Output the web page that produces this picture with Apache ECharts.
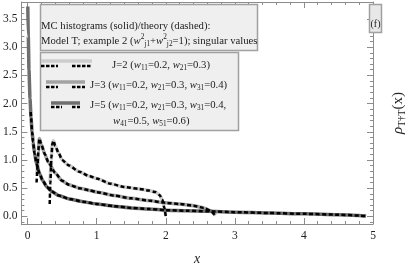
<!DOCTYPE html>
<html><head><meta charset="utf-8">
<script src="https://cdn.jsdelivr.net/npm/echarts@6/dist/echarts.min.js"></script>
<style>html,body{margin:0;padding:0;background:#fff}#c{width:415px;height:271px}</style>
</head><body><div id="c"></div>
<script>
// ---- data ----
const xTickLabels = [0, 1, 2, 3, 4, 5];
const yTickLabels = [0, 0.5, 1.0, 1.5, 2.0, 2.5, 3.0, 3.5];

const j2X  = [0.325, 0.34, 0.36, 0.375, 0.4, 0.45, 0.5, 0.6, 0.75, 0.9, 1.0, 1.2, 1.4, 1.6, 1.75, 1.85, 1.91, 1.95, 1.98, 2.0];
const j2Y  = [0.6, 1.0, 1.3, 1.34, 1.25, 1.12, 1.0, 0.9, 0.79, 0.71, 0.67, 0.58, 0.52, 0.49, 0.46, 0.43, 0.38, 0.3, 0.15, 0.02];
const j2TX = [0.32, 0.33, 0.345, 0.36, 0.375, 0.4, 0.45, 0.5, 0.6, 0.75, 0.9, 1.0, 1.2, 1.4, 1.6, 1.75, 1.85, 1.91, 1.95, 1.98, 2.0];
const j2TY = [0.22, 0.6, 1.05, 1.3, 1.34, 1.25, 1.12, 1.0, 0.9, 0.79, 0.71, 0.67, 0.58, 0.52, 0.49, 0.46, 0.43, 0.38, 0.3, 0.15, 0.0];

const j3X  = [0.14, 0.155, 0.17, 0.2, 0.25, 0.3, 0.4, 0.5, 0.6, 0.75, 0.9, 1.0, 1.25, 1.5, 1.75, 2.0, 2.2, 2.4, 2.55, 2.65, 2.72];
const j3Y  = [0.75, 1.15, 1.38, 1.27, 1.1, 0.96, 0.77, 0.63, 0.56, 0.5, 0.46, 0.43, 0.37, 0.32, 0.28, 0.24, 0.22, 0.19, 0.15, 0.1, 0.02];
const j3TX = [0.13, 0.14, 0.155, 0.17, 0.2, 0.25, 0.3, 0.4, 0.5, 0.6, 0.75, 0.9, 1.0, 1.25, 1.5, 1.75, 2.0, 2.2, 2.4, 2.55, 2.65, 2.72];
const j3TY = [0.6, 0.8, 1.15, 1.38, 1.27, 1.1, 0.96, 0.77, 0.63, 0.56, 0.5, 0.46, 0.43, 0.37, 0.32, 0.28, 0.24, 0.22, 0.19, 0.15, 0.1, 0.0];

const j5X  = [0.003, 0.01, 0.02, 0.035, 0.05, 0.065, 0.08, 0.1, 0.13, 0.17, 0.22, 0.28, 0.35, 0.45, 0.6, 0.8, 1.0, 1.25, 1.5, 1.75, 2.0, 2.3, 2.6, 3.0, 3.5, 4.0, 4.5, 4.8, 4.9];
const j5Y  = [3.72, 3.2, 2.6, 2.09, 1.75, 1.5, 1.32, 1.12, 0.93, 0.77, 0.63, 0.52, 0.44, 0.37, 0.31, 0.26, 0.22, 0.18, 0.15, 0.13, 0.11, 0.1, 0.09, 0.075, 0.06, 0.045, 0.03, 0.015, 0.005];
const j5TX = [0.045, 0.05, 0.065, 0.08, 0.1, 0.13, 0.17, 0.22, 0.28, 0.35, 0.45, 0.6, 0.8, 1.0, 1.25, 1.5, 1.75, 2.0, 2.3, 2.6, 3.0, 3.5, 4.0, 4.5, 4.8, 4.9];
const j5TY = [1.85, 1.75, 1.5, 1.32, 1.12, 0.93, 0.77, 0.63, 0.52, 0.44, 0.37, 0.31, 0.26, 0.22, 0.18, 0.15, 0.13, 0.11, 0.1, 0.09, 0.075, 0.06, 0.045, 0.03, 0.015, 0.005];

const xMinor = [];
for (let v = 0.2; v < 5; v += 0.2) { const r = Math.round(v * 10) / 10; if (Math.abs(r - Math.round(r)) > 1e-6) xMinor.push(r); }
const yMinor = [];
for (let v = -0.1; v <= 3.75; v += 0.1) { const r = Math.round(v * 10) / 10; if (Math.abs(r * 2 - Math.round(r * 2)) > 1e-6) yMinor.push(r); }

const zip = (a, b) => a.map((v, i) => [v, b[i]]);
const SERIF = 'Liberation Serif';
const AX = '#8c8c8c';

const X_MIN = -0.09, X_MAX = 5, Y_MIN = -0.135, Y_MAX = 3.8;

function xAx(pos, ticks, len, labels, line) {
  return {
    type: 'value', position: pos, min: X_MIN, max: X_MAX,
    axisLine: { show: line, onZero: false, lineStyle: { color: AX, width: 1 } },
    axisTick: { show: true, inside: true, length: len, customValues: ticks, lineStyle: { color: AX, width: 1 } },
    axisLabel: labels ? { show: true, customValues: xTickLabels, margin: 6, color: '#222', fontFamily: SERIF, fontSize: 11.5, formatter: v => String(Math.round(v)) } : { show: false },
    splitLine: { show: false }
  };
}
function yAx(pos, ticks, len, labels, line, name) {
  const o = {
    type: 'value', position: pos, min: Y_MIN, max: Y_MAX,
    axisLine: { show: line, onZero: false, lineStyle: { color: AX, width: 1 } },
    axisTick: { show: true, inside: true, length: len, customValues: ticks, lineStyle: { color: AX, width: 1 } },
    axisLabel: labels ? { show: true, customValues: yTickLabels, margin: 4, color: '#222', fontFamily: SERIF, fontSize: 11.5, formatter: v => v.toFixed(1) } : { show: false },
    splitLine: { show: false }
  };
  if (name) {
    o.name = '{r|ρ}{s|T†T}{n|(x)}';
    o.nameLocation = 'middle';
    o.nameRotate = 90;
    o.nameGap = 17;
    o.nameTextStyle = {
      color: '#222',
      rich: {
        r: { fontFamily: SERIF, fontSize: 15, fontStyle: 'italic', lineHeight: 17 },
        s: { fontFamily: SERIF, fontSize: 10, lineHeight: 11, verticalAlign: 'bottom' },
        n: { fontFamily: SERIF, fontSize: 15, lineHeight: 17 }
      }
    };
  }
  return o;
}

const FS = 10.7, FSS = 7.3;
const richBase = {
  n: { fontFamily: SERIF, fontSize: FS, lineHeight: 14, fill: '#222', color: '#222' },
  i: { fontFamily: SERIF, fontSize: FS, fontStyle: 'italic', lineHeight: 14, fill: '#222', color: '#222' },
  s: { fontFamily: SERIF, fontSize: FSS, lineHeight: 8.5, verticalAlign: 'bottom', fill: '#222', color: '#222' },
  p: { fontFamily: SERIF, fontSize: FSS, lineHeight: 8.5, verticalAlign: 'top', fill: '#222', color: '#222' }
};
function txt(x, y, t) {
  return { type: 'text', x: x, y: y, z: 20, style: { text: t, rich: richBase, verticalAlign: 'middle', align: 'left', fontFamily: SERIF, fontSize: FS, fill: '#222' } };
}
function seg(x1, y1, x2, y2, color, w, dash) {
  return { type: 'line', z: 20, shape: { x1: x1, y1: y1, x2: x2, y2: y2 }, style: { stroke: color, lineWidth: w, lineDash: dash || null } };
}

const C2 = '#cdcdcd', C3 = '#a3a3a3', C5 = '#6e6e6e';
const DASH = [4, 2.5];

function solid(name, x, y, c) {
  return { name: name, type: 'line', data: zip(x, y), showSymbol: false, smooth: 0.2, smoothMonotone: 'x', lineStyle: { color: c, width: 3.5 }, itemStyle: { color: c }, z: 2 };
}
function theory(name, x, y) {
  return { name: name, type: 'line', data: zip(x, y), showSymbol: false, smooth: 0.2, smoothMonotone: 'x', lineStyle: { color: '#000', width: 2.5, type: DASH }, itemStyle: { color: '#000' }, z: 3 };
}

const chart = echarts.init(document.getElementById('c'), null, { renderer: 'canvas' });
chart.setOption({
  animation: false,
  backgroundColor: '#fff',
  grid: { left: 19, right: 31, top: 2, bottom: 44, containLabel: false },
  xAxis: [
    Object.assign(xAx('bottom', xTickLabels, 6, true, true), {
      name: 'x', nameLocation: 'middle', nameGap: 28,
      nameTextStyle: { fontFamily: SERIF, fontStyle: 'italic', fontSize: 14, color: '#222' }
    }),
    xAx('bottom', xMinor, 3, false, false),
    xAx('top', xTickLabels, 6, false, true),
    xAx('top', xMinor, 3, false, false)
  ],
  yAxis: [
    yAx('left', yTickLabels, 6, true, true),
    yAx('left', yMinor, 3, false, false),
    yAx('right', yTickLabels, 6, false, true, true),
    yAx('right', yMinor, 3, false, false)
  ],
  series: [
    solid('J=2 MC', j2X, j2Y, C2),
    solid('J=3 MC', j3X, j3Y, C3),
    solid('J=5 MC', j5X, j5Y, C5),
    theory('J=2 theory', j2TX, j2TY),
    theory('J=3 theory', j3TX, j3TY),
    theory('J=5 theory', j5TX, j5TY)
  ],
  graphic: [
    { type: 'rect', z: 10, shape: { x: 40.5, y: 4.5, width: 217, height: 46 }, style: { fill: '#efefef', stroke: '#a0a0a0', lineWidth: 1.5 } },
    txt(41, 26, '{n|MC histograms (solid)/theory (dashed):}'),
    txt(41, 41, '{n|Model T; example 2 (}{i|w}{p|2}{s|j1}{n|+}{i|w}{p|2}{s|j2}{n|=1); singular values}'),

    { type: 'rect', z: 10, shape: { x: 40.5, y: 52.5, width: 198, height: 78 }, style: { fill: '#efefef', stroke: '#a0a0a0', lineWidth: 1.5 } },
    seg(41, 61, 92, 61, C2, 3.5),
    seg(41, 66, 58, 66, '#000', 2.5, [3.5, 1.5]),
    seg(72, 66, 91, 66, '#000', 2.5, [3.5, 1.5]),
    txt(112, 65, '{n|J=2 (}{i|w}{s|11}{n|=0.2, }{i|w}{s|21}{n|=0.3)}'),

    seg(46, 82, 85, 82, C3, 3.5),
    seg(46, 87, 58, 87, '#000', 2.5, [3.5, 1.5]),
    seg(72, 87, 85, 87, '#000', 2.5, [3.5, 1.5]),
    txt(90, 85, '{n|J=3 (}{i|w}{s|11}{n|=0.2, }{i|w}{s|21}{n|=0.3, }{i|w}{s|31}{n|=0.4)}'),

    seg(51, 103, 80, 103, C5, 3.5),
    seg(51, 107, 62, 107, '#000', 2.5, [3.5, 1.5]),
    seg(72, 107, 80, 107, '#000', 2.5, [3.5, 1.5]),
    txt(90, 105, '{n|J=5 (}{i|w}{s|11}{n|=0.2, }{i|w}{s|21}{n|=0.3, }{i|w}{s|31}{n|=0.4,}'),
    txt(113, 121, '{i|w}{s|41}{n|=0.5, }{i|w}{s|51}{n|=0.6)}'),

    { type: 'rect', z: 10, shape: { x: 369.5, y: 4.5, width: 12, height: 28 }, style: { fill: '#e8e8e8', stroke: '#a0a0a0', lineWidth: 1.5 } },
    { type: 'text', z: 20, x: 375.5, y: 24, style: { text: '(f)', fontFamily: SERIF, fontSize: 10, fill: '#222', align: 'center', verticalAlign: 'middle' } }
  ]
});
</script>
</body></html>
